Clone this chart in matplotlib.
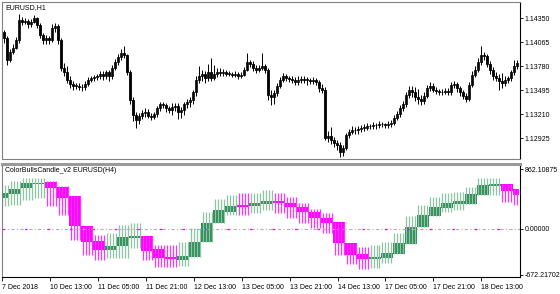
import numpy as np
import pandas as pd
import matplotlib
matplotlib.use('Agg')
import matplotlib.pyplot as plt

plt.rcParams['font.family'] = ['Liberation Sans', 'DejaVu Sans']

# EURUSD H1 candles (open of bar 0, then closes/highs/lows for every bar)
open0 = 1.1421
closes = [1.1419, 1.1412, 1.1385, 1.1395, 1.1400, 1.1409, 1.1433, 1.1431, 1.1432, 1.1428,
          1.1431, 1.1435, 1.1427, 1.1415, 1.1409, 1.1412, 1.1409, 1.1423, 1.1426, 1.1409,
          1.1376, 1.1371, 1.1362, 1.1357, 1.1355, 1.1355, 1.1353, 1.1353, 1.1357, 1.1362,
          1.1364, 1.1365, 1.1366, 1.1369, 1.1366, 1.1371, 1.1366, 1.1376, 1.1383, 1.1389,
          1.1394, 1.1391, 1.1371, 1.1338, 1.1320, 1.1314, 1.1319, 1.1323, 1.1324, 1.1319,
          1.1318, 1.1321, 1.1328, 1.1333, 1.1332, 1.1328, 1.1326, 1.1330, 1.1331, 1.1324,
          1.1326, 1.1333, 1.1336, 1.1338, 1.1347, 1.1362, 1.1366, 1.1369, 1.1364, 1.1371,
          1.1364, 1.1369, 1.1371, 1.1370, 1.1371, 1.1369, 1.1369, 1.1368, 1.1369, 1.1366,
          1.1368, 1.1374, 1.1383, 1.1381, 1.1376, 1.1374, 1.1376, 1.1378, 1.1374, 1.1344,
          1.1341, 1.1346, 1.1355, 1.1362, 1.1366, 1.1364, 1.1363, 1.1362, 1.1359, 1.1362,
          1.1363, 1.1362, 1.1362, 1.1360, 1.1362, 1.1359, 1.1352, 1.1350, 1.1293, 1.1295,
          1.1290, 1.1287, 1.1285, 1.1276, 1.1281, 1.1296, 1.1300, 1.1302, 1.1302, 1.1303,
          1.1305, 1.1305, 1.1307, 1.1307, 1.1308, 1.1308, 1.1309, 1.1309, 1.1308, 1.1309,
          1.1311, 1.1317, 1.1321, 1.1328, 1.1333, 1.1344, 1.1350, 1.1347, 1.1341, 1.1339,
          1.1337, 1.1343, 1.1352, 1.1355, 1.1350, 1.1349, 1.1347, 1.1347, 1.1349, 1.1347,
          1.1356, 1.1357, 1.1352, 1.1347, 1.1343, 1.1339, 1.1356, 1.1368, 1.1374, 1.1383,
          1.1391, 1.1390, 1.1381, 1.1374, 1.1366, 1.1364, 1.1360, 1.1358, 1.1362, 1.1364,
          1.1371, 1.1378, 1.1382]
highs = [1.1424, 1.1421, 1.1414, 1.1398, 1.1404, 1.1413, 1.1440, 1.1437, 1.1435, 1.1434,
         1.1434, 1.1439, 1.1437, 1.1429, 1.1418, 1.1415, 1.1414, 1.1428, 1.1429, 1.1428,
         1.1411, 1.1382, 1.1378, 1.1366, 1.1361, 1.1358, 1.1358, 1.1357, 1.1360, 1.1365,
         1.1367, 1.1368, 1.1369, 1.1372, 1.1372, 1.1374, 1.1373, 1.1379, 1.1387, 1.1393,
         1.1398, 1.1402, 1.1393, 1.1374, 1.1341, 1.1324, 1.1323, 1.1326, 1.1328, 1.1327,
         1.1322, 1.1324, 1.1331, 1.1336, 1.1336, 1.1334, 1.1331, 1.1334, 1.1334, 1.1334,
         1.1330, 1.1336, 1.1339, 1.1342, 1.1350, 1.1366, 1.1378, 1.1374, 1.1372, 1.1381,
         1.1388, 1.1379, 1.1376, 1.1376, 1.1375, 1.1374, 1.1372, 1.1371, 1.1372, 1.1371,
         1.1371, 1.1377, 1.1394, 1.1386, 1.1384, 1.1380, 1.1380, 1.1394, 1.1381, 1.1376,
         1.1350, 1.1350, 1.1358, 1.1365, 1.1370, 1.1369, 1.1367, 1.1366, 1.1365, 1.1366,
         1.1366, 1.1366, 1.1365, 1.1364, 1.1365, 1.1364, 1.1362, 1.1357, 1.1353, 1.1301,
         1.1306, 1.1294, 1.1291, 1.1288, 1.1285, 1.1299, 1.1304, 1.1307, 1.1306, 1.1307,
         1.1308, 1.1309, 1.1311, 1.1310, 1.1312, 1.1311, 1.1313, 1.1312, 1.1311, 1.1313,
         1.1314, 1.1320, 1.1325, 1.1332, 1.1337, 1.1348, 1.1354, 1.1354, 1.1353, 1.1351,
         1.1344, 1.1347, 1.1356, 1.1359, 1.1358, 1.1353, 1.1351, 1.1351, 1.1352, 1.1352,
         1.1359, 1.1361, 1.1359, 1.1355, 1.1350, 1.1346, 1.1359, 1.1372, 1.1378, 1.1388,
         1.1402, 1.1395, 1.1393, 1.1384, 1.1377, 1.1371, 1.1369, 1.1370, 1.1366, 1.1367,
         1.1374, 1.1385, 1.1386]
lows = [1.1410, 1.1406, 1.1380, 1.1383, 1.1392, 1.1398, 1.1406, 1.1427, 1.1428, 1.1424,
        1.1425, 1.1429, 1.1424, 1.1411, 1.1405, 1.1404, 1.1405, 1.1407, 1.1419, 1.1405,
        1.1372, 1.1366, 1.1358, 1.1352, 1.1350, 1.1351, 1.1350, 1.1349, 1.1350, 1.1355,
        1.1359, 1.1361, 1.1362, 1.1363, 1.1362, 1.1363, 1.1360, 1.1363, 1.1373, 1.1380,
        1.1386, 1.1388, 1.1368, 1.1333, 1.1313, 1.1305, 1.1309, 1.1315, 1.1318, 1.1316,
        1.1314, 1.1315, 1.1318, 1.1325, 1.1328, 1.1324, 1.1322, 1.1320, 1.1325, 1.1315,
        1.1316, 1.1320, 1.1328, 1.1330, 1.1333, 1.1343, 1.1358, 1.1360, 1.1358, 1.1360,
        1.1360, 1.1362, 1.1365, 1.1366, 1.1366, 1.1366, 1.1366, 1.1365, 1.1365, 1.1363,
        1.1364, 1.1366, 1.1372, 1.1377, 1.1372, 1.1370, 1.1371, 1.1373, 1.1370, 1.1338,
        1.1332, 1.1333, 1.1343, 1.1352, 1.1359, 1.1361, 1.1359, 1.1358, 1.1356, 1.1356,
        1.1358, 1.1358, 1.1356, 1.1357, 1.1357, 1.1356, 1.1348, 1.1346, 1.1290, 1.1288,
        1.1286, 1.1282, 1.1279, 1.1270, 1.1272, 1.1279, 1.1293, 1.1297, 1.1298, 1.1298,
        1.1300, 1.1301, 1.1302, 1.1303, 1.1304, 1.1304, 1.1305, 1.1306, 1.1305, 1.1305,
        1.1306, 1.1308, 1.1314, 1.1318, 1.1325, 1.1330, 1.1340, 1.1342, 1.1337, 1.1333,
        1.1332, 1.1333, 1.1340, 1.1349, 1.1347, 1.1345, 1.1344, 1.1344, 1.1345, 1.1344,
        1.1344, 1.1352, 1.1348, 1.1343, 1.1339, 1.1335, 1.1337, 1.1353, 1.1365, 1.1371,
        1.1380, 1.1385, 1.1377, 1.1369, 1.1362, 1.1360, 1.1350, 1.1352, 1.1355, 1.1358,
        1.1361, 1.1368, 1.1375]

# ColorBullsCandle_v2 (H4) candles, one per H4 period
h4_open = [442, 500, 587, 645, 674, 602, 471, 36, -181, -312, -254, -138, -109, -297, -413,
           -457, -413, -196, 80, 239, 341, 326, 355, 399, 370, 312, 239, 152, 94, -210, -370,
           -442, -428, -370, -225, 22, 181, 297, 355, 355, 486, 616, 645, 573]
h4_close = [515, 573, 660, 660, 587, 442, 36, -196, -312, -254, -123, -109, -326, -428, -442,
            -399, -196, 80, 268, 326, 312, 370, 399, 370, 312, 239, 152, 80, -210, -384, -442,
            -413, -355, -210, 22, 196, 312, 370, 399, 500, 631, 645, 544, 486]
h4_high = [631, 689, 732, 732, 689, 616, 471, 36, -94, -65, 51, 80, -109, -239, -239,
           -196, 7, 239, 428, 486, 515, 515, 558, 515, 457, 370, 283, 225, 94, -210, -268,
           -239, -196, -65, 181, 341, 457, 515, 529, 602, 732, 732, 645, 573]
h4_low = [326, 341, 413, 442, 326, 196, -167, -384, -457, -428, -428, -283, -457, -558, -558,
          -544, -413, -196, 80, 196, 196, 225, 268, 225, 152, 80, 7, -65, -384, -515, -587,
          -573, -500, -370, -225, 22, 181, 239, 268, 355, 486, 486, 384, 341]

price_ticks = [1.14350, 1.14065, 1.13780, 1.13495, 1.13210, 1.12925]
ind_ticks = [862.10875, 0.0, -672.21702]

# bar times: hourly, weekend skipped
times = pd.date_range('2018-12-07 21:00', '2018-12-20 00:00', freq='h')
times = times[times.dayofweek < 5][:len(closes)]
n = len(closes)
x = np.arange(n)
opens = np.array([open0] + closes[:-1])
closes = np.array(closes)
highs = np.array(highs)
lows = np.array(lows)

W, H = 560, 294
fig = plt.figure(figsize=(W / 100, H / 100), dpi=100)
ax1 = fig.add_axes([2 / W, (H - 159) / H, 518 / W, 157 / H])
ax2 = fig.add_axes([2 / W, (H - 277) / H, 518 / W, 113 / H])

xmin = 0.23
xmax = xmin + 518 / 3
fs = 5.0

# top panel: candles
ax1.vlines(x, lows, highs, color='black', lw=0.7)
up = closes >= opens
body_lo = np.minimum(opens, closes)
body_h = np.maximum(np.abs(closes - opens), 0.00005)
ax1.bar(x[up], body_h[up], bottom=body_lo[up], width=0.6, facecolor='white',
        edgecolor='black', linewidth=0.6)
ax1.bar(x[~up], body_h[~up], bottom=body_lo[~up], width=0.6, facecolor='black',
        edgecolor='black', linewidth=0.6)
ax1.set_xlim(xmin, xmax)
ax1.set_ylim(1.14567 - 0.00011875 * 159, 1.14567 - 0.00011875 * 2)
ax1.set_yticks(price_ticks)
ax1.set_yticklabels(['%.5f' % p for p in price_ticks])
ax1.set_xticks([])
ax1.text(0.006, 0.985, 'EURUSD,H1', transform=ax1.transAxes, fontsize=fs,
         va='top', ha='left')

# bottom panel: H4 indicator candles spread over the H1 bars
grp = pd.Series(times).dt.floor('4h')
gid = pd.factorize(grp)[0]
o4 = np.array(h4_open)[gid]
c4 = np.array(h4_close)[gid]
hi4 = np.array(h4_high)[gid]
lo4 = np.array(h4_low)[gid]
bull = c4 >= o4
ax2.bar(x[bull], np.maximum(np.abs(c4 - o4), 12)[bull], bottom=np.minimum(o4, c4)[bull],
        width=1.0, color='#2e8b57', linewidth=0)
ax2.bar(x[~bull], np.maximum(np.abs(c4 - o4), 12)[~bull], bottom=np.minimum(o4, c4)[~bull],
        width=1.0, color='#ff00ff', linewidth=0)
ax2.vlines(x[bull], lo4[bull], hi4[bull], color='#8cc4a4', lw=0.9)
ax2.vlines(x[~bull], lo4[~bull], hi4[~bull], color='#ff33ff', lw=0.9)
ax2.axhline(0, color='#b0b0b0', lw=0.8, dashes=(3, 2, 1, 2))
ax2.axhline(0, color='#ff00ff', lw=0.9, dashes=(2, 16))
ax2.set_xlim(xmin, xmax)
ax2.set_ylim(14.5 * (228.5 - 277), 14.5 * (228.5 - 164))
ax2.set_yticks(ind_ticks)
ax2.set_yticklabels(['%.5f' % v for v in ind_ticks])
ax2.text(0.006, 0.975, 'ColorBullsCandle_v2 EURUSD(H4)', transform=ax2.transAxes,
         fontsize=fs, va='top', ha='left')

tick_pos = list(range(0, n, 16))
labels = []
for i in tick_pos:
    t = times[i]
    if i == 0:
        labels.append(f'{t.day} {t:%b %Y}')
    else:
        labels.append(f'{t.day} {t:%b %H:%M}')
ax2.set_xticks(tick_pos)
ax2.set_xticklabels(labels, ha='left')

for ax in (ax1, ax2):
    ax.yaxis.tick_right()
    ax.tick_params(axis='y', direction='out', length=2.5, width=0.6, pad=1.0,
                   labelsize=fs, colors='black')
    for s in ax.spines.values():
        s.set_color('#808080')
        s.set_linewidth(0.8)
    ax.spines['right'].set_color('black')
ax2.spines['top'].set_linewidth(2.2)
ax2.spines['top'].set_color('#9a9a9a')
ax2.tick_params(axis='x', direction='out', length=3, width=0.6, pad=2, labelsize=fs)
ax2.spines['bottom'].set_color('black')

fig.savefig('out.png', dpi=100)
